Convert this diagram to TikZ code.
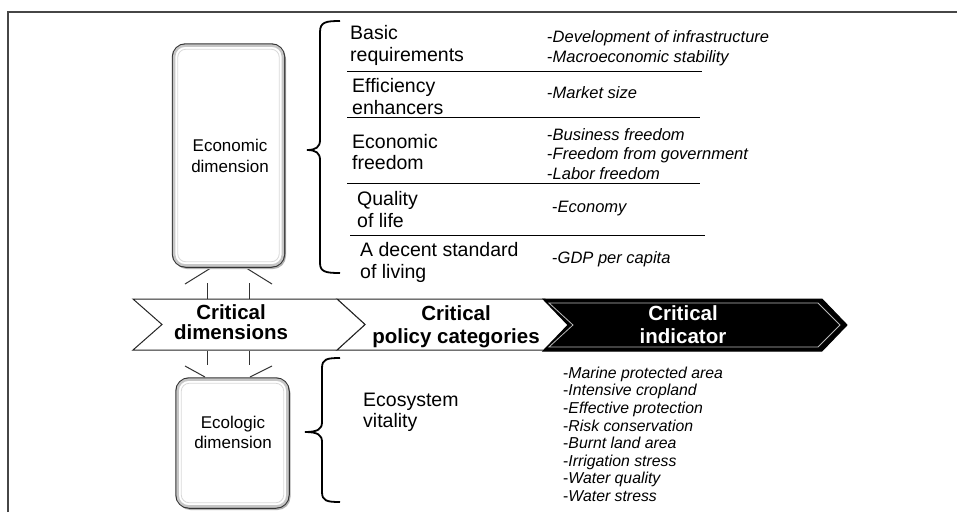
\documentclass[tikz,border=0pt]{standalone}
\usepackage{fontspec}
\setmainfont{Liberation Sans}
\usetikzlibrary{shadows}
\newcommand\indash{\textup{-}}
\begin{document}
\begin{tikzpicture}[x=1pt,y=-1pt,
  frameline/.style={draw=gray!55!black, line width=1.6pt},
  dimbox/.style={draw=black!80, line width=1.5pt, fill=white, rounded corners=13pt, inner sep=0pt,
     general shadow={fill=gray!60, shadow xshift=1.5pt, shadow yshift=-2pt}},
  bandline/.style={draw=gray!45, line width=2.4pt, rounded corners=11pt},
  innerline/.style={draw=gray!30, line width=0.8pt, rounded corners=8pt},
  dimtext/.style={font=\fontsize{17}{20.5}\selectfont, align=center, inner sep=0pt},
  cat/.style={font=\fontsize{19.5}{21.5}\selectfont, align=left, anchor=west, inner sep=0pt},
  ind/.style={font=\fontsize{16.5}{19.4}\selectfont\itshape, align=left, anchor=west, inner sep=0pt},
  indsmall/.style={font=\fontsize{15.8}{17.6}\selectfont\itshape, align=left, anchor=west, inner sep=0pt},
  sep/.style={draw=black, line width=1pt},
  brace/.style={draw=black, line width=1.8pt},
  stub/.style={draw=gray!40!black, line width=1pt},
  chev/.style={fill=white, draw=gray!30!black, line width=1pt},
  chevdark/.style={fill=black, draw=black, line width=1pt},
  bevel/.style={draw=gray!55, line width=0.8pt},
  head/.style={font=\fontsize{20.5}{20}\selectfont\bfseries, align=center, inner sep=0pt},
  headwide/.style={head, font=\fontsize{20.5}{22.8}\selectfont\bfseries},
]
\useasboundingbox (0,0) rectangle (957,512);
\fill[white] (0,0) rectangle (957,512);

% frame
\draw[frameline] (8,512) -- (8,12) -- (957,12);

% stubs between boxes and banner
\draw[stub] (185,284) -- (210,268.5);
\draw[stub] (247,268.5) -- (272,284);
\draw[stub] (207.5,283) -- (207.5,299);
\draw[stub] (249,283) -- (249,299);
\draw[stub] (185,366) -- (205,377);
\draw[stub] (250,377) -- (272,366);
\draw[stub] (207.5,351) -- (207.5,365);
\draw[stub] (249,351) -- (249,365);

% dimension boxes
\node[dimbox, minimum width=112pt, minimum height=223pt] (econ) at (228.5,155.5) {};
\draw[bandline] ([shift={(2.4,2.4)}]econ.north west) rectangle ([shift={(-2.4,-2.4)}]econ.south east);
\draw[innerline] ([shift={(6,6)}]econ.north west) rectangle ([shift={(-6,-6)}]econ.south east);
\node[dimtext] (econtext) at (230,155.8) {Economic\\dimension};

\node[dimbox, minimum width=113pt, minimum height=130pt] (ecol) at (232.5,443) {};
\draw[bandline] ([shift={(2.4,2.4)}]ecol.north west) rectangle ([shift={(-2.4,-2.4)}]ecol.south east);
\draw[innerline] ([shift={(6,6)}]ecol.north west) rectangle ([shift={(-6,-6)}]ecol.south east);
\node[dimtext] (ecoltext) at (233,432.4) {Ecologic\\dimension};

% banner
\path[chev] (337,299) -- (545,299) -- (572,324.5) -- (545,350) -- (337,350) -- (365,324.5) -- cycle;
\path[chev] (133,299) -- (337,299) -- (365,324.5) -- (337,350) -- (133,350) -- (162,324.5) -- cycle;
\path[chevdark] (543,299) -- (822,299) -- (847,325) -- (822,351) -- (543,351) -- (568,325) -- cycle;
\draw[bevel] (549,303) -- (818,303) -- (840,325) -- (818,347) -- (549,347) -- (573,325) -- cycle;

\node[head] (h1) at (231,321.8) {Critical\\dimensions};
\node[headwide] (h2) at (456,326.6) {Critical\\policy categories};
\node[headwide, text=white] (h3) at (683,324.9) {Critical\\indicator};

% braces
\draw[brace] (340,21) .. controls (326,21) and (320,22) .. (320,32) -- (320,140)
  .. controls (320,147) and (316,150) .. (307,150)
  .. controls (316,150) and (320,153) .. (320,160) -- (320,263)
  .. controls (320,272) and (326,273) .. (340,273);
\draw[brace] (340,358) .. controls (327,358) and (322,359) .. (322,368) -- (322,422)
  .. controls (322,429) and (318,432) .. (305,432)
  .. controls (318,432) and (322,435) .. (322,442) -- (322,492)
  .. controls (322,501) and (327,502) .. (340,502);

% separators
\draw[sep] (347,71) -- (702,71);
\draw[sep] (347,117) -- (700,117);
\draw[sep] (347,183) -- (700,183);
\draw[sep] (350,235) -- (705,235);

% categories
\node[cat] (c1) at (350,45.7) {Basic\\requirements};
\node[cat] (c2) at (352,96.3) {Efficiency\\enhancers};
\node[cat] (c3) at (352,151.9) {Economic\\freedom};
\node[cat] (c4) at (357,209.6) {Quality\\of life};
\node[cat] (c5) at (360,262.3) {A decent standard\\of living};
\node[cat] (c6) at (363,412.3) {Ecosystem\\vitality};

% indicators
\node[ind] (i1) at (547,48.2) {\indash Development of infrastructure\\\indash Macroeconomic stability};
\node[ind] (i2) at (547,92.3) {\indash Market size};
\node[ind] (i3) at (547,153.9) {\indash Business freedom\\\indash Freedom from government\\\indash Labor freedom};
\node[ind] (i4) at (552,209) {\indash Economy};
\node[ind] (i5) at (552,259) {\indash GDP per capita};
\node[indsmall] (i6) at (563,434.2) {\indash Marine protected area\\\indash Intensive cropland\\\indash Effective protection\\\indash Risk conservation\\\indash Burnt land area\\\indash Irrigation stress\\\indash Water quality\\\indash Water stress};
\end{tikzpicture}
\end{document}
